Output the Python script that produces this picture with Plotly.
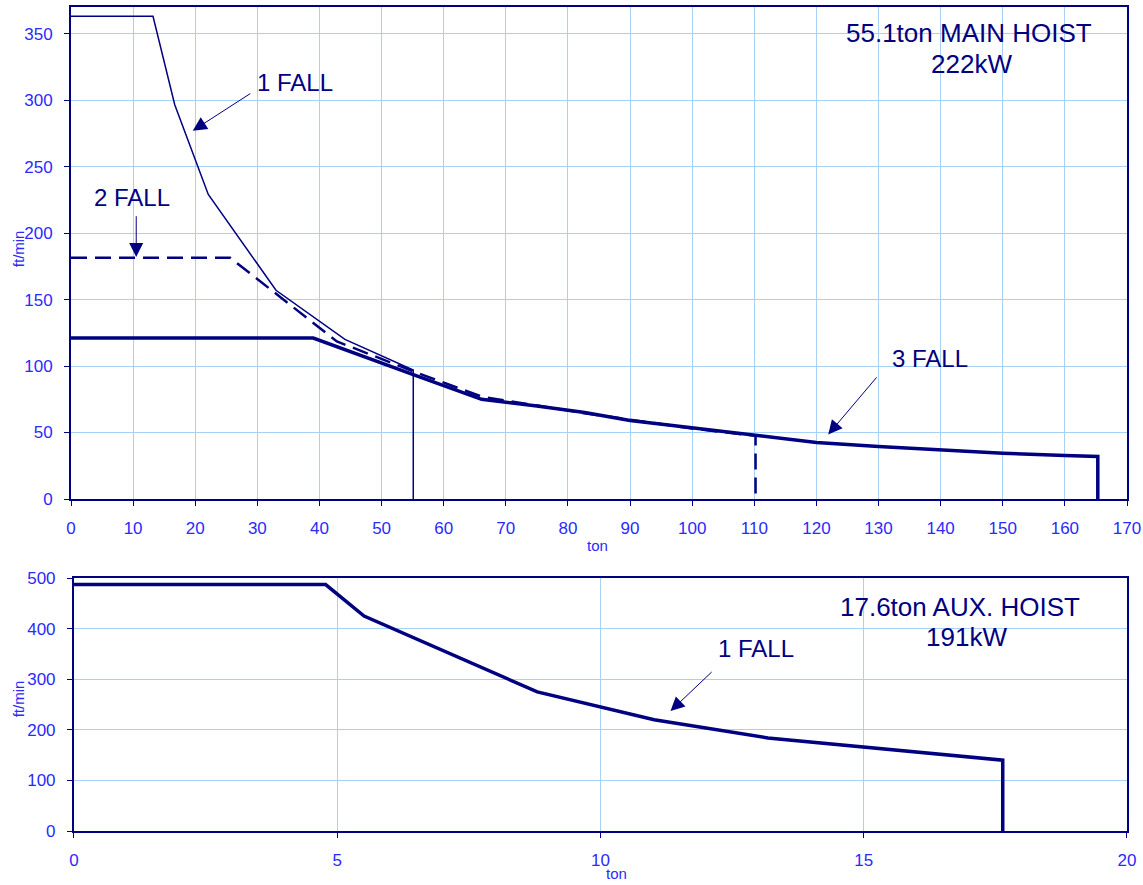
import plotly.graph_objects as go
from plotly.subplots import make_subplots

# ---- data: main hoist (ton vs ft/min) ----
fall1_x = [0, 13.2, 16.7, 22.1, 33.0, 44.1, 55.1, 55.1]
fall1_y = [363, 363, 296.5, 229, 157, 120, 97, 0]

fall2_x = [0, 25.6, 42.8, 55.1, 66.1, 82.7, 100, 110.2, 110.2]
fall2_y = [181.5, 181.5, 118.5, 96, 77, 64.5, 53, 47.5, 0]

fall3_x = [0, 39.0, 55.1, 66.1, 75, 82.7, 90, 100, 110.2, 120, 130, 140, 150, 160, 165.3, 165.3]
fall3_y = [121, 121, 93.5, 75, 70, 65, 59, 53.5, 47.5, 42.5, 39.5, 37, 34.5, 32.7, 32, 0]

# ---- data: aux hoist ----
aux_x = [0, 4.78, 5.51, 8.8, 11.02, 13.18, 17.64, 17.64]
aux_y = [487, 487, 425, 275, 220, 184, 140, 0]

main_xticks = list(range(0, 171, 10))
main_yticks = list(range(0, 351, 50))
aux_xticks = [0, 5, 10, 15, 20]
aux_yticks = [0, 100, 200, 300, 400, 500]

NAVY = "#000080"
GRID = "#a9d1f7"
TICKC = "#2a2aff"
FONT = "Arial, Liberation Sans, sans-serif"

fig = make_subplots(rows=2, cols=1)

fig.add_trace(go.Scatter(x=fall1_x, y=fall1_y, mode="lines",
                         line=dict(color=NAVY, width=1.5), showlegend=False), row=1, col=1)
fig.add_trace(go.Scatter(x=fall2_x, y=fall2_y, mode="lines",
                         line=dict(color=NAVY, width=2.5, dash="16px,8px"), showlegend=False), row=1, col=1)
fig.add_trace(go.Scatter(x=fall3_x, y=fall3_y, mode="lines",
                         line=dict(color=NAVY, width=3.5), showlegend=False), row=1, col=1)
fig.add_trace(go.Scatter(x=aux_x, y=aux_y, mode="lines",
                         line=dict(color=NAVY, width=3.5), showlegend=False), row=2, col=1)

axis_common = dict(showline=True, linecolor=NAVY, linewidth=2, mirror=True,
                   showgrid=True, gridcolor=GRID, gridwidth=1,
                   ticks="outside", ticklen=5, tickcolor=NAVY, tickwidth=1,
                   tickfont=dict(family=FONT, size=17, color=TICKC),
                   zeroline=False, automargin=False)

fig.update_xaxes(axis_common, row=1, col=1, range=[0, 170], tickvals=main_xticks,
                 domain=[0, 1], ticklabelstandoff=8)
fig.update_yaxes(axis_common, row=1, col=1, range=[0, 370], tickvals=main_yticks,
                 domain=[0.4029, 1.0], ticklabelstandoff=8)
fig.update_xaxes(axis_common, row=2, col=1, range=[0, 20], tickvals=aux_xticks,
                 domain=[0.0028, 1], ticklabelstandoff=8)
fig.update_yaxes(axis_common, row=2, col=1, range=[0, 500], tickvals=aux_yticks,
                 domain=[0, 0.307], ticklabelstandoff=8)

tf = dict(family=FONT, size=24, color=NAVY)
hf = dict(family=FONT, size=26, color=NAVY)
arrow = dict(showarrow=True, arrowhead=2, arrowsize=2.8, arrowwidth=1, arrowcolor=NAVY, text="")
ctr = dict(xanchor="center", yanchor="middle", showarrow=False)
ann = []
# main chart labels
ann.append(dict(ctr, x=144.6, y=350.8, xref="x", yref="y", text="55.1ton MAIN HOIST", font=hf))
ann.append(dict(ctr, x=144.9, y=327.1, xref="x", yref="y", text="222kW", font=hf))
ann.append(dict(arrow, x=19.6, y=277, ax=29.1, ay=305.6, xref="x", yref="y", axref="x", ayref="y"))
ann.append(dict(ctr, x=36.0, y=313, xref="x", yref="y", text="1 FALL", font=tf))
ann.append(dict(arrow, x=10.5, y=182, ax=10.5, ay=213.8, xref="x", yref="y", axref="x", ayref="y"))
ann.append(dict(ctr, x=9.8, y=227, xref="x", yref="y", text="2 FALL", font=tf))
ann.append(dict(arrow, x=121.9, y=48.5, ax=129.9, ay=92.6, xref="x", yref="y", axref="x", ayref="y"))
ann.append(dict(ctr, x=138.3, y=106, xref="x", yref="y", text="3 FALL", font=tf))
# aux chart labels
ann.append(dict(ctr, x=16.83, y=443.2, xref="x2", yref="y2", text="17.6ton AUX. HOIST", font=hf))
ann.append(dict(ctr, x=16.96, y=383.8, xref="x2", yref="y2", text="191kW", font=hf))
ann.append(dict(arrow, x=11.33, y=237, ax=12.14, ay=317, xref="x2", yref="y2", axref="x2", ayref="y2"))
ann.append(dict(ctr, x=12.96, y=360, xref="x2", yref="y2", text="1 FALL", font=tf))
# axis titles (paper coordinates)
atf = dict(family=FONT, size=15, color=TICKC)
ann.append(dict(ctr, x=0.499, y=0.3459, xref="paper", yref="paper", text="ton", font=atf))
ann.append(dict(ctr, x=-0.050, y=0.7063, xref="paper", yref="paper", text="ft/min",
                textangle=-90, font=atf))
ann.append(dict(ctr, x=0.517, y=-0.051, xref="paper", yref="paper", text="ton", font=atf))
ann.append(dict(ctr, x=-0.050, y=0.16, xref="paper", yref="paper", text="ft/min",
                textangle=-90, font=atf))

fig.update_layout(width=1143, height=885, margin=dict(l=71, r=16, t=7, b=54, autoexpand=False),
                  plot_bgcolor="white", paper_bgcolor="white",
                  font=dict(family=FONT), annotations=ann, showlegend=False)

fig.write_html("out.html", config={"displayModeBar": False},
               post_script="document.body.style.margin='0';")
